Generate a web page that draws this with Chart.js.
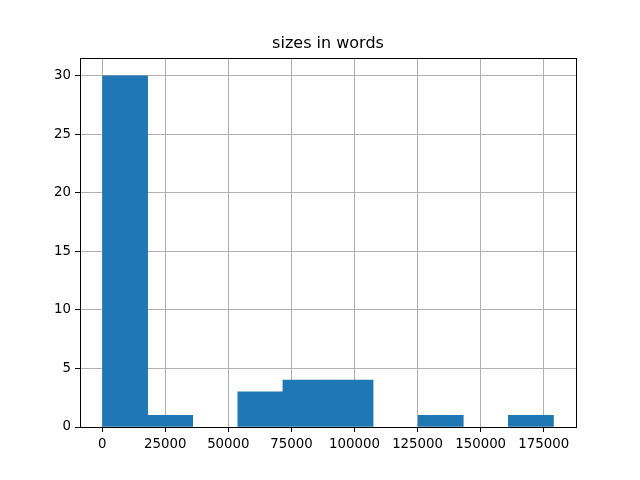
<!DOCTYPE html>
<html>
<head>
<meta charset="utf-8">
<script src="https://cdn.jsdelivr.net/npm/chart.js@4/dist/chart.umd.min.js"></script>
<style>
  html, body { margin: 0; padding: 0; background: #fff; }
  #wrap { width: 640px; height: 480px; }
</style>
</head>
<body>
<div id="wrap"><canvas id="hist" width="640" height="480"></canvas></div>
<script>
// Histogram values
const binEdges = [150, 18020, 35890, 53760, 71630, 89500, 107370, 125240, 143110, 160980, 178850];
const counts = [30, 1, 0, 3, 4, 4, 0, 1, 0, 1];
const xTicks = [0, 25000, 50000, 75000, 100000, 125000, 150000, 175000];
const yTicks = [0, 5, 10, 15, 20, 25, 30];
const titleText = 'sizes in words';

// bar centres from the bin edges (empty bins left out)
let bars = [];
counts.forEach((c, i) => {
    bars.push({ x: (binEdges[i] + binEdges[i + 1]) / 2, y: c > 0 ? c : null });
});

// matplotlib style 5% margins
const span = binEdges[binEdges.length - 1] - binEdges[0];
const xMin = binEdges[0] - span * 0.05;
const xMax = binEdges[binEdges.length - 1] + span * 0.05;
const yMax = Math.max(...counts) * 1.05;

const tickFont = { family: 'DejaVu Sans', size: 13.33 };

// box round the plot area, like the axes spines
const frame = {
    id: 'frame',
    afterDraw(chart) {
        const a = chart.chartArea;
        const ctx = chart.ctx;
        ctx.save();
        ctx.strokeStyle = '#000';
        ctx.lineWidth = 1;
        ctx.strokeRect(Math.round(a.left) + 0.5, Math.round(a.top) + 0.5,
            Math.round(a.right - a.left), Math.round(a.bottom - a.top));
        ctx.restore();
    }
};

new Chart(document.getElementById('hist'), {
    type: 'bar',
    data: {
        datasets: [{
            data: bars,
            backgroundColor: '#1f77b4',
            borderWidth: 0,
            barPercentage: 1,
            categoryPercentage: 1
        }]
    },
    options: {
        responsive: false,
        animation: false,
        layout: { padding: { left: 0, right: 64, top: 0, bottom: 0 } },
        plugins: {
            legend: { display: false },
            tooltip: { enabled: false },
            title: {
                display: true,
                text: titleText,
                fullSize: false,
                color: '#000',
                font: { family: 'DejaVu Sans', size: 16, weight: 'normal' },
                padding: { top: 34, bottom: 5 }
            }
        },
        scales: {
            x: {
                type: 'linear',
                min: xMin,
                max: xMax,
                offset: false,
                z: 1,
                afterBuildTicks: s => { s.ticks = xTicks.map(v => ({ value: v })); },
                afterFit: s => { s.height = 53; },
                border: { display: false },
                grid: { offset: false, color: '#b0b0b0', lineWidth: 1, tickColor: '#000', tickLength: 5 },
                ticks: { color: '#000', font: tickFont, padding: 5, maxRotation: 0, autoSkip: false,
                    callback: v => String(v) }
            },
            y: {
                min: 0,
                max: yMax,
                z: 1,
                afterBuildTicks: s => { s.ticks = yTicks.map(v => ({ value: v })); },
                afterFit: s => { s.width = 80; },
                border: { display: false },
                grid: { color: '#b0b0b0', lineWidth: 1, tickColor: '#000', tickLength: 5 },
                ticks: { color: '#000', font: tickFont, padding: 4, autoSkip: false,
                    callback: v => String(v) }
            }
        }
    },
    plugins: [frame]
});
</script>
</body>
</html>
